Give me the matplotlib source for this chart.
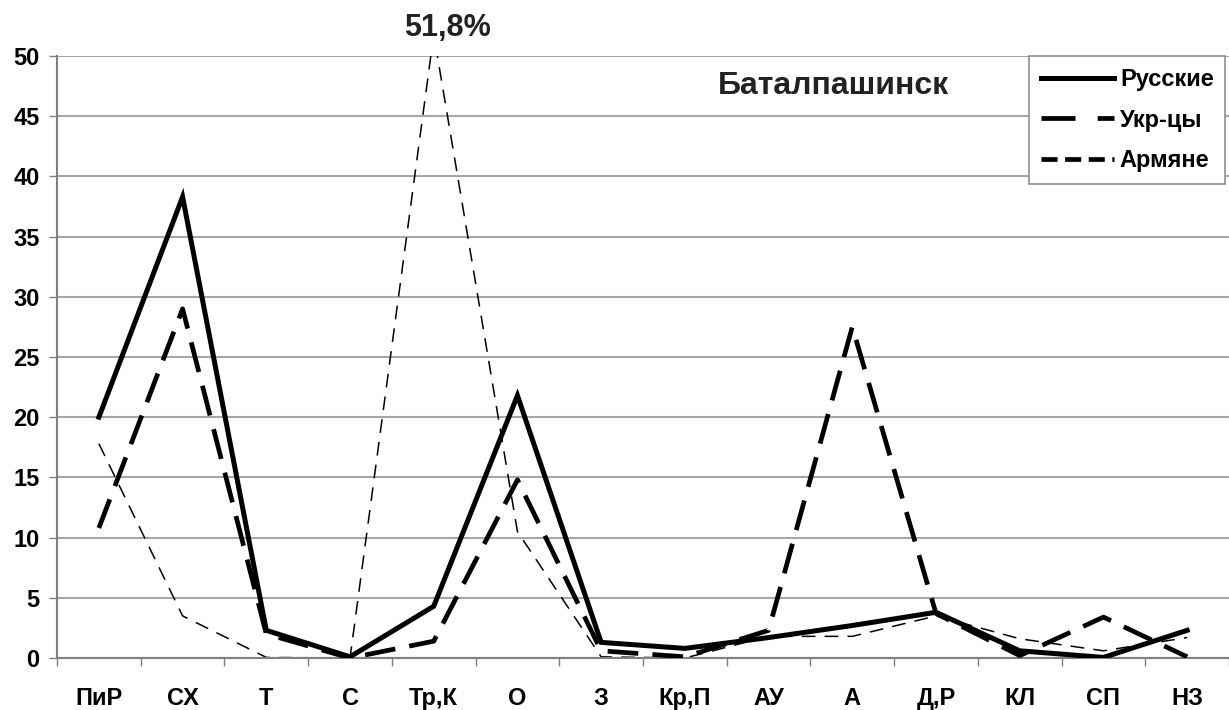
import numpy as np
import matplotlib.pyplot as plt
from matplotlib.lines import Line2D

plt.rcParams['font.family'] = ['Liberation Sans', 'DejaVu Sans']
plt.rcParams['font.weight'] = 'bold'

# Данные
categories = ['ПиР', 'СХ', 'Т', 'С', 'Тр,К', 'О', 'З', 'Кр,П', 'АУ', 'А', 'Д,Р', 'КЛ', 'СП', 'НЗ']
russians = [20.0, 38.3, 2.3, 0.1, 4.3, 21.8, 1.3, 0.8, 1.7, 2.7, 3.8, 0.6, 0.05, 2.3]
ukrainians = [10.8, 29.0, 2.0, 0.0, 1.4, 14.8, 0.6, 0.1, 2.3, 27.5, 3.7, 0.2, 3.4, 0.1]
armenians = [17.8, 3.5, 0.05, 0.0, 51.8, 10.5, 0.1, 0.0, 1.8, 1.8, 3.5, 1.6, 0.6, 1.7]
series_names = ['Русские', 'Укр-цы', 'Армяне']
peak_label = '51,8%'
city = 'Баталпашинск'

fig = plt.figure(figsize=(12.29, 7.10), dpi=100)
ax = fig.add_axes([0.0464, 0.0732, 0.9536, 0.848])

x = np.arange(len(categories))

ax.plot(x, russians, color='black', lw=3.6, solid_joinstyle='miter', zorder=4)
ax.plot(x, ukrainians, color='black', lw=3.4, dashes=(6.5, 3), zorder=3)
ax.plot(x, armenians, color='black', lw=1.1, dashes=(9, 6), zorder=2)

ax.set_xlim(-0.5, len(categories) - 0.5)
ax.set_ylim(0, 50)
ax.set_yticks(np.arange(0, 51, 5))
ax.set_xticks(x)
ax.set_xticklabels(categories)
ax.set_xticks(np.arange(-0.5, len(categories)), minor=True)
ax.tick_params(axis='x', which='major', length=0, pad=21, labelsize=17)
ax.tick_params(axis='x', which='minor', length=5.5, color='#808080', width=1)
ax.tick_params(axis='y', length=5.5, color='#808080', width=1, pad=7, labelsize=17)

ax.grid(axis='y', color='#a6a6a6', lw=1.5, zorder=0)
for side in ['top', 'right']:
    ax.spines[side].set_visible(False)
ax.spines['left'].set_color('#808080')
ax.spines['bottom'].set_color('#808080')
ax.spines['left'].set_linewidth(1.5)
ax.spines['bottom'].set_linewidth(1.5)

fig.text(447 / 1229, 1 - 28 / 710, peak_label, ha='center', va='center',
         fontsize=22, fontweight='bold', color='#222222')
fig.text(833 / 1229, 1 - 86 / 710, city, ha='center', va='center',
         fontsize=23, fontweight='bold', color='#222222')

handles = [
    Line2D([0], [0], color='black', lw=3.6),
    Line2D([0], [0], color='black', lw=3.4, dashes=(7.2, 4.7)),
    Line2D([0], [0], color='black', lw=3.4, dashes=(3.4, 1.6)),
]
leg = fig.legend(handles, series_names, loc='upper left',
                 bbox_to_anchor=(1029 / 1229, 1 - 56 / 710), frameon=True,
                 fancybox=False, fontsize=17, handlelength=3.1,
                 handletextpad=0.25, labelspacing=0.75, borderpad=0.5,
                 borderaxespad=0)
leg.get_frame().set_edgecolor('#909090')
leg.get_frame().set_linewidth(1.2)
leg.get_frame().set_alpha(1)

fig.savefig('out.png', dpi=100)
